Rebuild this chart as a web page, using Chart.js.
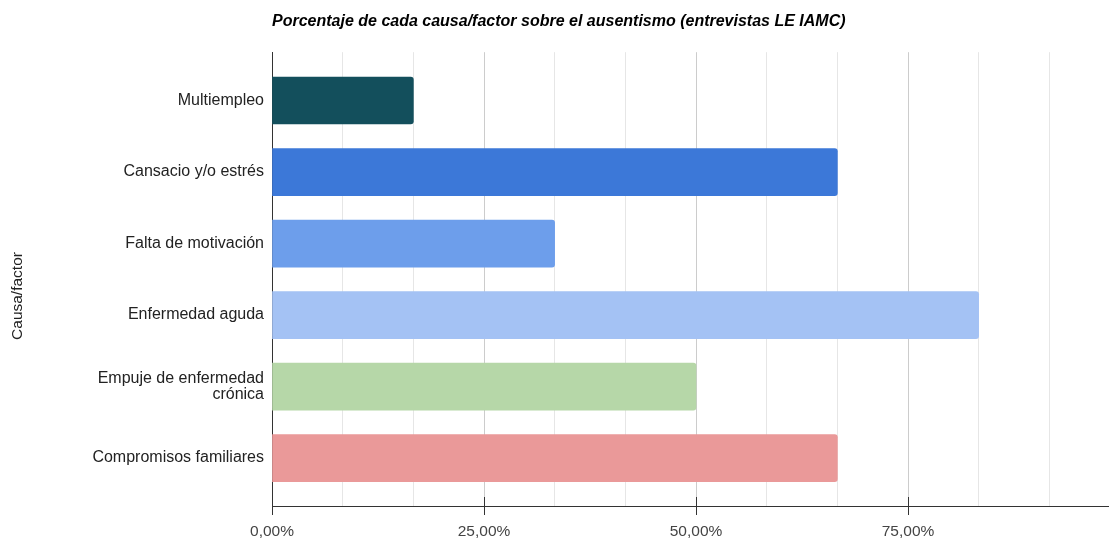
<!DOCTYPE html>
<html lang="es">
<head>
<meta charset="utf-8">
<title>Porcentaje de cada causa/factor sobre el ausentismo</title>
<script src="https://cdn.jsdelivr.net/npm/chart.js@4.4.1/dist/chart.umd.min.js"></script>
<style>
  html, body { margin: 0; padding: 0; background: #ffffff; }
  #wrap { width: 1109px; height: 538px; position: relative; }
</style>
</head>
<body>
<div id="wrap"><canvas id="chart"></canvas></div>
<script>
// Causes of absenteeism and their share of the interviews
const categories = [
  'Multiempleo',
  'Cansacio y/o estrés',
  'Falta de motivación',
  'Enfermedad aguda',
  'Empuje de enfermedad\ncrónica',
  'Compromisos familiares'
];
const percentages = [16.67, 66.67, 33.33, 83.33, 50.00, 66.67];
const barColors = ['#134f5c', '#3c78d8', '#6d9eeb', '#a4c2f4', '#b6d7a8', '#ea9999'];

// Horizontal axis: labelled ticks every 25 %, light gridlines every 1/12
const xTickLabels = ['0,00%', '25,00%', '50,00%', '75,00%'];
const xGridStep = 100 / 12;
const xMax = 98.7;

const titleText = 'Porcentaje de cada causa/factor sobre el ausentismo (entrevistas LE IAMC)';
const yAxisTitle = 'Causa/factor';

const FONT = "'Liberation Sans', Arial, sans-serif";

// Cross-shaped tick marks on major x ticks and the vertical axis title
const axisDecor = {
  id: 'axisDecor',
  afterDraw(chart) {
    const ctx = chart.ctx;
    const xs = chart.scales.x;
    const area = chart.chartArea;
    ctx.save();
    ctx.strokeStyle = '#333333';
    ctx.lineWidth = 1;
    xs.ticks.forEach((t, i) => {
      if (i % 3 !== 0) return;
      const px = Math.round(xs.getPixelForValue(t.value)) + 0.5;
      ctx.beginPath();
      ctx.moveTo(px, area.bottom - 9);
      ctx.lineTo(px, area.bottom);
      ctx.stroke();
    });
    ctx.translate(18, 296);
    ctx.rotate(-Math.PI / 2);
    ctx.fillStyle = '#222222';
    ctx.font = '15.5px ' + FONT;
    ctx.textAlign = 'center';
    ctx.textBaseline = 'middle';
    ctx.fillText(yAxisTitle, 0, 0);
    ctx.restore();
  }
};

new Chart(document.getElementById('chart'), {
  type: 'bar',
  data: {
    datasets: [{
      data: percentages.map((v, i) => ({ x: v, y: i })),
      backgroundColor: barColors,
      borderWidth: 0,
      borderRadius: 3,
      borderSkipped: 'start',
      barThickness: 47
    }]
  },
  options: {
    indexAxis: 'y',
    responsive: true,
    maintainAspectRatio: false,
    animation: false,
    layout: { padding: { left: 0, right: 0, top: 0, bottom: 0 } },
    plugins: {
      legend: { display: false },
      tooltip: { enabled: false },
      title: {
        display: true,
        text: titleText,
        align: 'start',
        fullSize: false,
        color: '#000000',
        font: { family: FONT, size: 16, weight: 'bold', style: 'italic', lineHeight: 1.2 },
        padding: { top: 12, bottom: 21 }
      }
    },
    scales: {
      x: {
        type: 'linear',
        min: 0,
        max: xMax,
        afterBuildTicks(scale) {
          const ticks = [];
          for (let i = 0; i * xGridStep < xMax; i++) ticks.push({ value: i * xGridStep });
          scale.ticks = ticks;
        },
        afterFit(scale) {
          scale.height = 32;
        },
        ticks: {
          autoSkip: false,
          maxRotation: 0,
          padding: 7,
          color: '#444444',
          font: { family: FONT, size: 15.5 },
          callback: (v, i) => (i % 3 === 0 ? xTickLabels[i / 3] : '')
        },
        grid: {
          color: (c) => (c.index % 3 === 0 ? '#cccccc' : '#e6e6e6'),
          tickColor: (c) => (c.index % 3 === 0 ? '#333333' : 'rgba(0,0,0,0)'),
          tickLength: 9,
          lineWidth: 1
        },
        border: { display: true, color: '#333333', width: 1 }
      },
      y: {
        type: 'linear',
        reverse: true,
        offset: false,
        min: -0.676,
        max: 5.67,
        afterBuildTicks(scale) {
          scale.ticks = categories.map((_, i) => ({ value: i }));
        },
        afterFit(scale) {
          scale.width = 272;
        },
        ticks: {
          autoSkip: false,
          padding: 8,
          color: '#222222',
          font: { family: FONT, size: 16, lineHeight: 0.95 },
          callback: (v, i) => categories[i].split('\n')
        },
        grid: { display: false, drawTicks: false, offset: false },
        border: { display: true, color: '#333333', width: 1 }
      }
    }
  },
  plugins: [axisDecor]
});
</script>
</body>
</html>
